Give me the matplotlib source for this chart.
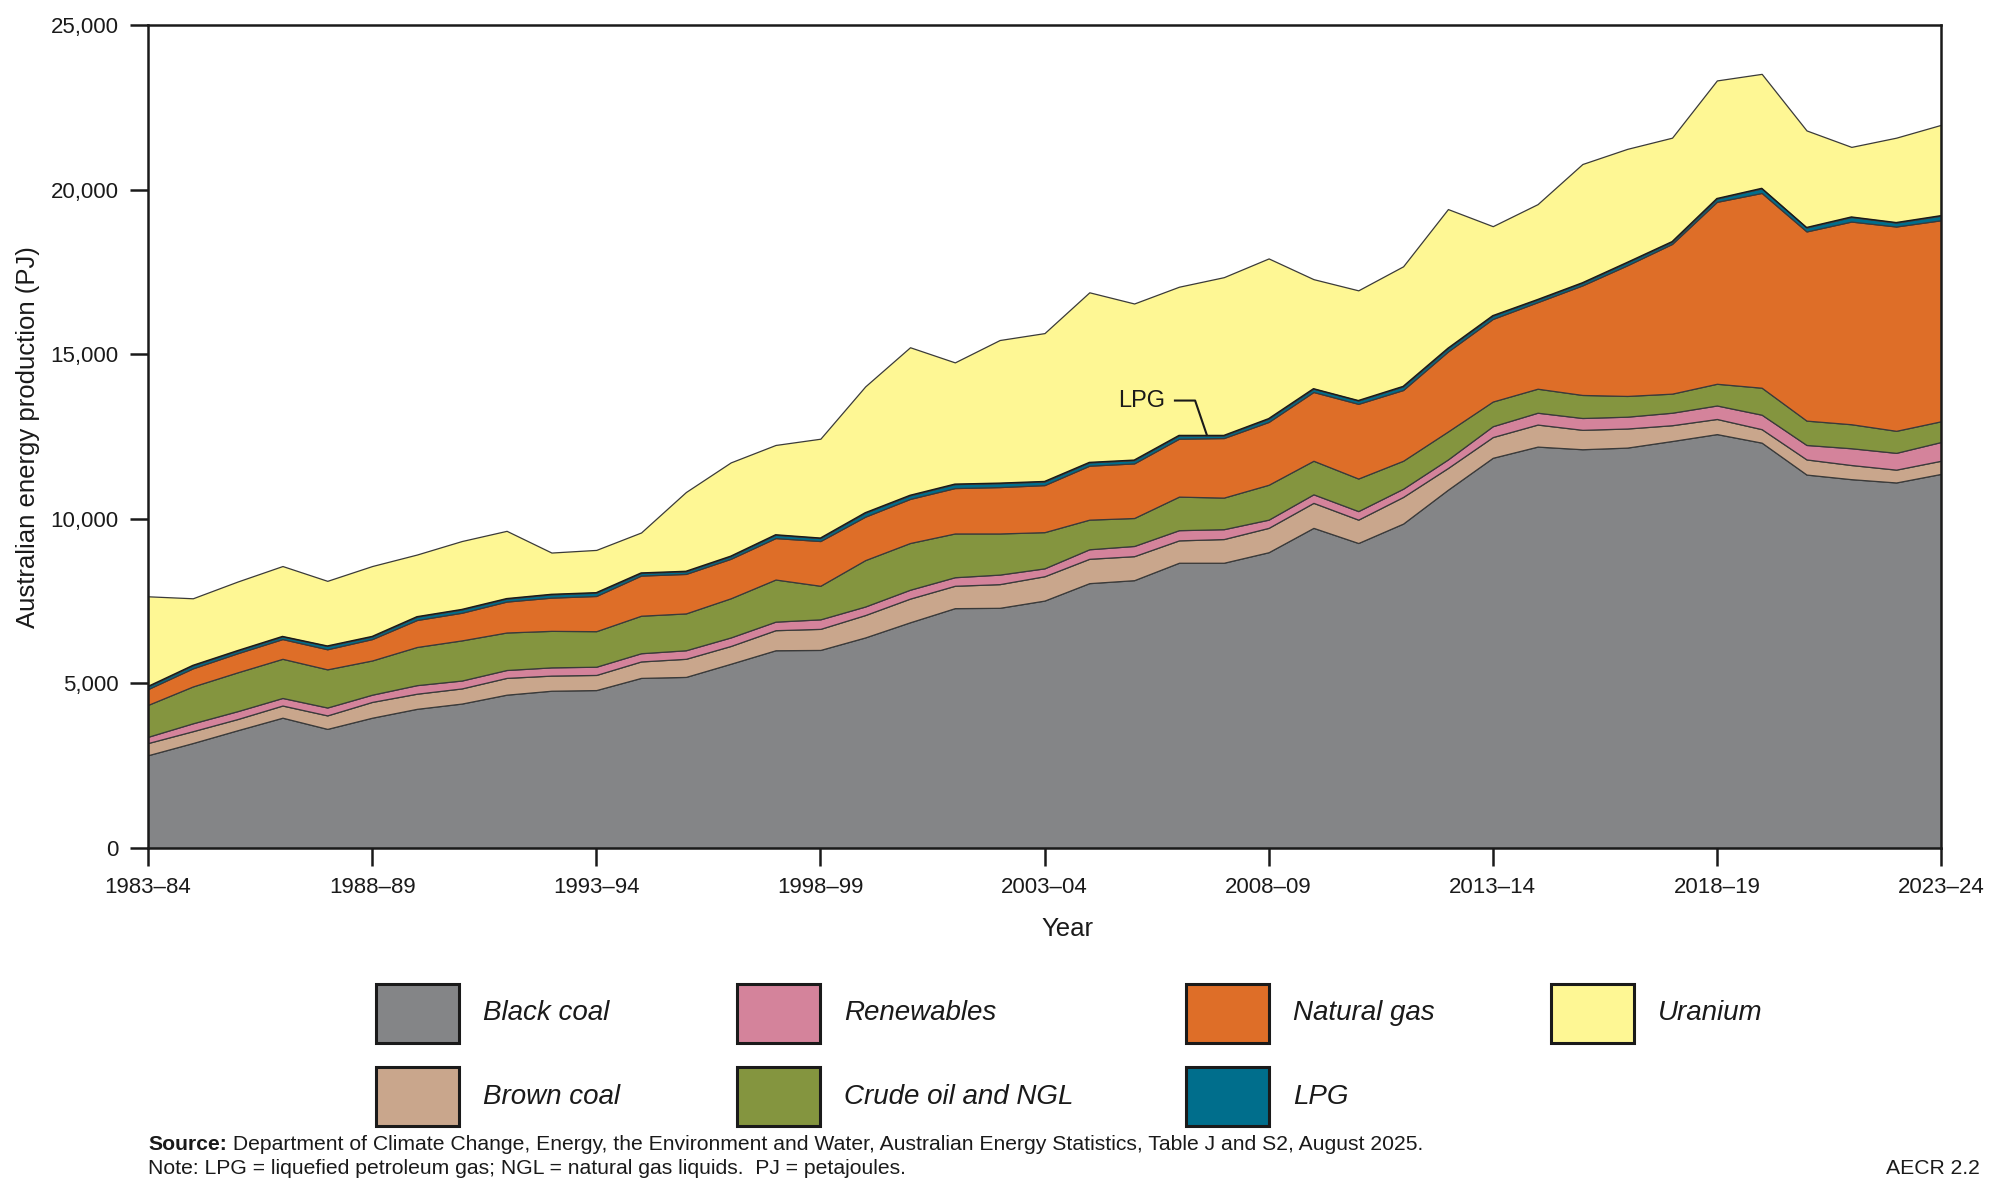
import matplotlib.pyplot as plt
from matplotlib.patches import Rectangle

plt.rcParams['font.family'] = ['Liberation Sans', 'DejaVu Sans']

# financial years 1983-84 to 2023-24
years = [f"{y}–{(y + 1) % 100:02d}" for y in range(1983, 2024)]

# production by fuel (PJ)
black_coal = [2820, 3190, 3580, 3960, 3620, 3960, 4230, 4390, 4660, 4780,
              4800, 5170, 5200, 5600, 6010, 6020, 6400, 6860, 7290, 7300,
              7520, 8050, 8140, 8670, 8670, 8990, 9730, 9270, 9860, 10890,
              11860, 12200, 12120, 12170, 12370, 12580, 12320, 11350, 11210, 11110,
              11370]
brown_coal = [370, 360, 340, 370, 410, 480, 460, 460, 510, 460,
              460, 500, 550, 540, 610, 640, 680, 720, 680, 720,
              740, 740, 730, 680, 720, 740, 760, 710, 810, 660,
              630, 670, 590, 580, 480, 460, 410, 460, 430, 390,
              400]
renewables = [190, 240, 240, 230, 240, 220, 260, 240, 240, 250,
              250, 250, 260, 260, 260, 290, 260, 270, 260, 290,
              240, 290, 310, 310, 300, 250, 260, 260, 250, 260,
              330, 360, 360, 360, 380, 410, 440, 440, 510, 510,
              570]
crude_oil = [970, 1120, 1180, 1190, 1160, 1040, 1160, 1220, 1140, 1110,
             1080, 1140, 1120, 1190, 1280, 1020, 1410, 1420, 1330, 1250,
             1100, 900, 850, 1020, 960, 1060, 1020, 990, 850, 850,
             750, 730, 700, 630, 580, 660, 820, 740, 730, 670,
             630]
natural_gas = [480, 550, 580, 600, 610, 650, 820, 840, 940, 1010,
               1070, 1220, 1200, 1200, 1260, 1360, 1320, 1340, 1380, 1410,
               1430, 1640, 1660, 1760, 1810, 1910, 2090, 2270, 2150, 2430,
               2510, 2630, 3330, 3970, 4550, 5530, 5920, 5750, 6160, 6210,
               6110]
lpg = [80, 90, 80, 80, 100, 80, 100, 100, 90, 100,
       100, 80, 80, 80, 100, 90, 120, 110, 120, 120,
       110, 100, 100, 100, 80, 100, 100, 100, 110, 100,
       100, 80, 80, 90, 70, 100, 140, 120, 140, 120,
       140]
uranium = [2740, 2040, 2100, 2140, 1980, 2140, 1890, 2080, 2060, 1270,
           1300, 1230, 2410, 2850, 2730, 3020, 3840, 4500, 3700, 4350,
           4510, 5170, 4760, 4520, 4810, 4870, 3330, 3350, 3650, 4230,
           2720, 2900, 3610, 3450, 3160, 3590, 3480, 2950, 2130, 2580,
           2760]

series = [black_coal, brown_coal, renewables, crude_oil, natural_gas, lpg, uranium]
names = ['Black coal', 'Brown coal', 'Renewables', 'Crude oil and NGL',
         'Natural gas', 'LPG', 'Uranium']
colors = ['#848587', '#c9a68c', '#d4839b', '#84953f', '#de6e28', '#006e8c', '#fef794']

W, H = 2000, 1191
fig = plt.figure(figsize=(W / 100, H / 100), dpi=100)
ax = fig.add_axes([0.074, 0.288, 0.8965, 0.6906])

x = list(range(len(years)))
ax.stackplot(x, *series, colors=colors, edgecolor='#3a3a3a', linewidth=0.9)

# the LPG band is outlined a bit heavier in the original
lpg_bottom = [sum(v[:5]) for v in zip(*series)]
lpg_top = [b + l for b, l in zip(lpg_bottom, lpg)]
ax.plot(x, lpg_top, color='#1a1a1a', lw=1.0)

ax.set_xlim(0, len(years) - 1)
ax.set_ylim(0, 25000)
ax.set_xticks(x[::5])
ax.set_xticklabels(years[::5])
ax.set_yticks(range(0, 25001, 5000))
ax.set_yticklabels([f"{v:,}" for v in range(0, 25001, 5000)])
ax.tick_params(length=13, width=1.8, pad=8, labelsize=16, colors='#1a1a1a')
for s in ax.spines.values():
    s.set_linewidth(1.8)
    s.set_color('#1a1a1a')

ax.set_xlabel('Year', fontsize=18.5, color='#1a1a1a', va='top')
ax.xaxis.set_label_coords(0.513, -0.084)
ax.set_ylabel('Australian energy production (PJ)', fontsize=18.5, color='#1a1a1a', va='center')
ax.yaxis.set_label_coords(-0.0669, 0.5)

# LPG callout
ax.text(22.69, 13600, 'LPG', ha='right', va='center', fontsize=17, color='#1a1a1a')
ax.plot([22.91, 23.36, 23.62], [13600, 13600, lpg_top[23] + 20], color='#1a1a1a', lw=1.5)

# legend: two rows of four, placed in figure pixels
legend_slots = {0: (0, 0), 1: (0, 1), 2: (1, 0), 3: (1, 1), 4: (2, 0), 5: (2, 1), 6: (3, 0)}
col_left = [376, 737, 1186, 1551]
row_top = [984, 1067]
box_w, box_h = 83, 59
for i, (c, r) in legend_slots.items():
    x0, y0 = col_left[c], row_top[r]
    fig.add_artist(Rectangle((x0 / W, 1 - (y0 + box_h) / H), box_w / W, box_h / H,
                             transform=fig.transFigure, facecolor=colors[i],
                             edgecolor='#1a1a1a', linewidth=2.2))
    fig.text((x0 + 107) / W, 1 - (y0 + box_h / 2) / H, names[i], fontsize=20,
             style='italic', ha='left', va='center', color='#1a1a1a')

src = fig.text(0.074, 1 - 1144 / H, 'Source:', fontsize=15.2, fontweight='bold',
               ha='left', va='center', color='#1a1a1a')
ax.annotate(' Department of Climate Change, Energy, the Environment and Water, '
            'Australian Energy Statistics, Table J and S2, August 2025.',
            xy=(1, 0.5), xycoords=src, ha='left', va='center',
            fontsize=15.2, color='#1a1a1a', annotation_clip=False)
fig.text(0.074, 1 - 1169 / H, 'Note: LPG = liquefied petroleum gas; NGL = natural gas liquids.  PJ = petajoules.',
         fontsize=15.2, ha='left', va='center', color='#1a1a1a')
fig.text(0.99, 1 - 1169 / H, 'AECR 2.2', fontsize=15.2, ha='right', va='center', color='#1a1a1a')

fig.savefig('out.png', dpi=100)
